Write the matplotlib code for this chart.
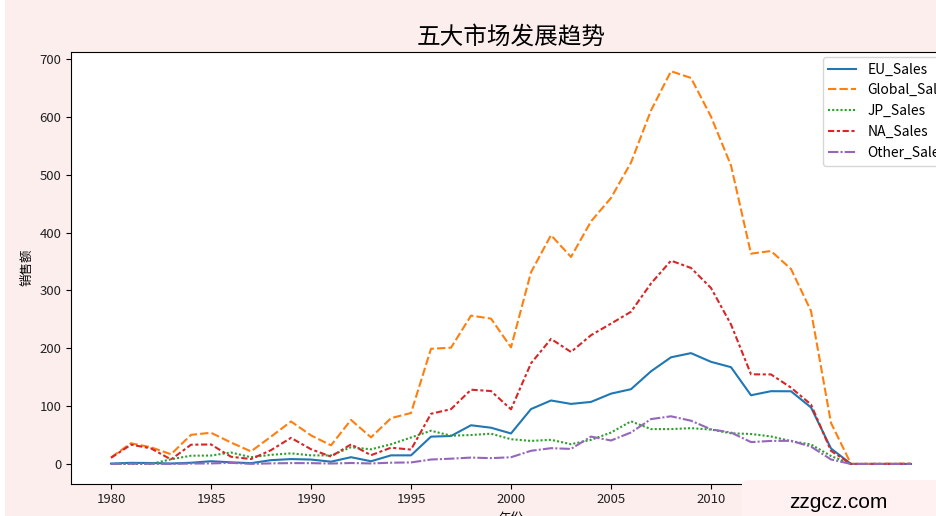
import matplotlib
matplotlib.use("Agg")
import matplotlib.pyplot as plt
from matplotlib.patches import FancyBboxPatch, Rectangle

plt.rcParams['font.family'] = ['Noto Sans CJK SC', 'DejaVu Sans']
plt.rcParams['axes.unicode_minus'] = False

years = [1980, 1981, 1982, 1983, 1984, 1985, 1986, 1987, 1988, 1989,
         1990, 1991, 1992, 1993, 1994, 1995, 1996, 1997, 1998, 1999,
         2000, 2001, 2002, 2003, 2004, 2005, 2006, 2007, 2008, 2009,
         2010, 2011, 2012, 2013, 2014, 2015, 2016, 2017, 2020]

eu_sales = [0.67, 1.96, 1.65, 0.80, 2.10, 4.74, 2.84, 1.41, 6.59, 8.44,
            7.63, 3.95, 11.71, 4.65, 14.88, 14.90, 47.26, 48.32, 66.90, 62.67,
            52.75, 94.89, 109.74, 103.81, 107.27, 121.56, 129.24, 160.18, 184.40, 191.59,
            176.57, 167.31, 118.78, 125.80, 125.65, 97.71, 26.76, 0.00, 0.00]

global_sales = [11.38, 35.77, 28.86, 16.79, 50.36, 53.94, 37.07, 21.74, 47.22, 73.45,
                49.39, 32.23, 76.16, 45.98, 79.17, 88.11, 199.15, 200.98, 256.47, 251.27,
                201.56, 331.47, 395.52, 357.85, 419.31, 459.94, 521.04, 611.13, 678.90, 667.30,
                600.45, 515.99, 363.54, 368.11, 337.05, 264.44, 70.93, 0.05, 0.29]

jp_sales = [0.00, 0.00, 0.00, 8.10, 14.27, 14.56, 19.81, 11.63, 15.76, 18.36,
            14.88, 14.78, 28.91, 25.33, 33.99, 45.75, 57.44, 48.87, 50.04, 52.34,
            42.77, 39.86, 41.76, 34.20, 41.65, 54.28, 73.73, 60.29, 60.26, 61.89,
            59.49, 53.04, 51.80, 47.59, 39.46, 33.72, 13.70, 0.05, 0.00]

na_sales = [10.59, 33.40, 26.92, 7.76, 33.28, 33.73, 12.50, 8.46, 23.87, 45.15,
            25.46, 12.76, 33.87, 15.12, 28.15, 24.82, 86.76, 94.75, 128.36, 126.06,
            94.49, 173.98, 216.19, 193.59, 222.59, 242.61, 263.12, 312.05, 351.44, 338.85,
            304.24, 241.21, 154.96, 154.77, 131.97, 102.82, 22.66, 0.00, 0.27]

other_sales = [0.12, 0.32, 0.31, 0.14, 0.70, 0.92, 1.93, 0.20, 0.99, 1.50,
               1.40, 0.74, 1.65, 0.89, 2.20, 2.64, 7.69, 9.13, 11.03, 10.05,
               11.62, 22.76, 27.28, 26.01, 47.29, 40.58, 54.43, 77.58, 82.39, 74.77,
               59.90, 54.36, 37.81, 39.82, 40.02, 30.01, 7.75, 0.00, 0.02]

series_names = ['EU_Sales', 'Global_Sales', 'JP_Sales', 'NA_Sales', 'Other_Sales']
series_values = [eu_sales, global_sales, jp_sales, na_sales, other_sales]

colors = ['#1f77b4', '#ff7f0e', '#2ca02c', '#d62728', '#9467bd']
dashes = [None, (4, 1.5), (1, 1), (3, 1.25, 1.5, 1.25), (5, 1, 1, 1)]

bg = '#fdeeee'
fig = plt.figure(figsize=(9.37, 5.16), dpi=100, facecolor=bg)
ax = fig.add_axes([71/937, (516-483.6)/516, 880/937, (483.6-51.6)/516])
ax.set_facecolor('white')

for name, vals, c, d in zip(series_names, series_values, colors, dashes):
    if d is None:
        ax.plot(years, vals, color=c, lw=1.5, label=name)
    else:
        ax.plot(years, vals, color=c, lw=1.5, dashes=d, label=name)

ax.set_xticks([1980, 1985, 1990, 1995, 2000, 2005, 2010, 2015, 2020])
ax.set_yticks([0, 100, 200, 300, 400, 500, 600, 700])
ax.tick_params(labelsize=9.5, labelcolor='#222222')
ax.set_title('五大市场发展趋势', fontsize=17)
ax.set_ylabel('销售额', fontsize=9)
ax.set_xlabel('年份', fontsize=9)
ax.legend(loc='upper right', fontsize=10, bbox_to_anchor=(1 + 13/880, 1.004))

# thin white strip at the left edge
fig.patches.append(Rectangle((0, 0), 5/937, 1, transform=fig.transFigure,
                             facecolor='white', edgecolor='none', zorder=9))

# watermark box
box = FancyBboxPatch((742/937, -0.05), 0.3, 0.05 + (516-480)/516,
                     boxstyle='round,pad=0,rounding_size=0.008',
                     transform=fig.transFigure, facecolor='#fff1f1',
                     edgecolor='none', zorder=10)
fig.patches.append(box)
fig.text(838/937, 13/516, 'zzgcz.com', fontsize=15, family='Liberation Sans',
         ha='center', va='center', color='black', zorder=11)

fig.savefig('out.png', dpi=100, facecolor=bg)
